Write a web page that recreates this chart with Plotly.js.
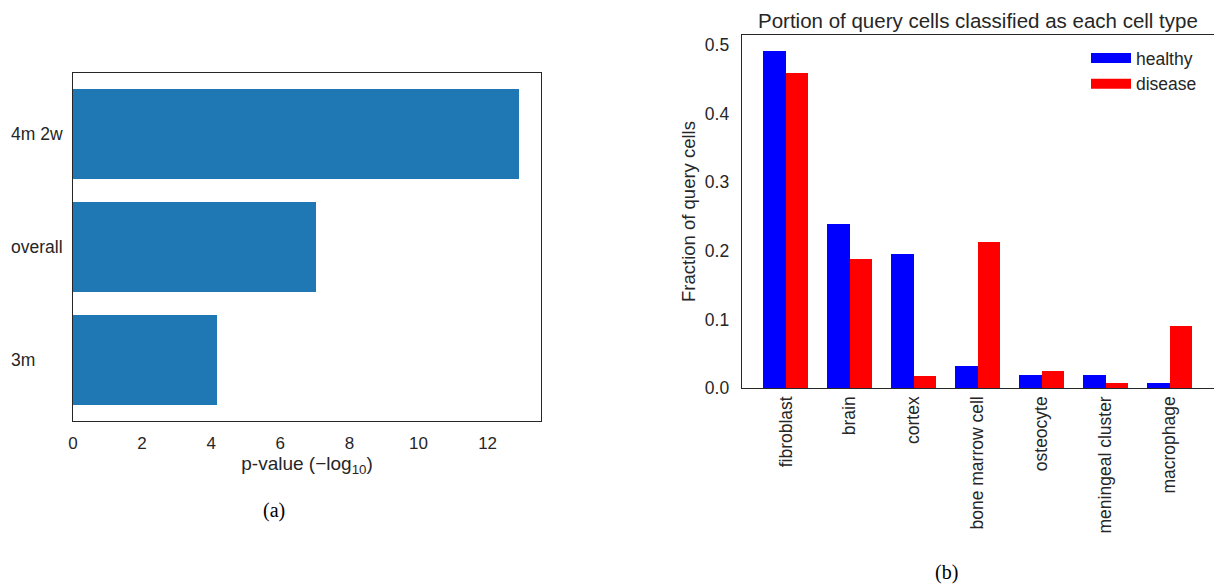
<!DOCTYPE html>
<html>
<head>
<meta charset="utf-8">
<script src="https://cdn.plot.ly/plotly-3.0.1.min.js"></script>
<style>html,body{margin:0;padding:0;background:#fff}</style>
</head>
<body>
<div id="chart" style="width:1214px;height:584px"></div>
<script>
// (a) significance per time point
const periods = ['3m', 'overall', '4m 2w'];
const pvalNegLog10 = [4.17, 7.04, 12.9];

// (b) fraction of query cells per predicted cell type
const cellTypes = ['fibroblast', 'brain', 'cortex', 'bone marrow cell', 'osteocyte', 'meningeal cluster', 'macrophage'];
const healthyFrac = [0.491, 0.239, 0.196, 0.032, 0.019, 0.019, 0.007];
const diseaseFrac = [0.459, 0.188, 0.017, 0.213, 0.025, 0.008, 0.090];

const W = 1214, H = 584;
const px = v => v / W;          // horizontal pixel -> paper
const py = v => 1 - v / H;      // vertical pixel -> paper

const ink = '#262626';
const sans = 'Liberation Sans, Arial, sans-serif';
const serif = 'Liberation Serif, Times New Roman, serif';
const tickFont = {family: sans, size: 17.5, color: ink};

const traces = [
  {
    type: 'bar', orientation: 'h',
    x: pvalNegLog10, y: periods,
    width: 0.8,
    marker: {color: '#1f77b4', line: {width: 0}},
    xaxis: 'x', yaxis: 'y', showlegend: false
  },
  {
    type: 'bar', name: 'healthy',
    x: cellTypes, y: healthyFrac,
    width: 0.35, offset: -0.35,
    marker: {color: '#0000ff', line: {width: 0}},
    xaxis: 'x2', yaxis: 'y2', showlegend: false
  },
  {
    type: 'bar', name: 'disease',
    x: cellTypes, y: diseaseFrac,
    width: 0.35, offset: 0,
    marker: {color: '#ff0000', line: {width: 0}},
    xaxis: 'x2', yaxis: 'y2', showlegend: false
  },
  // legend keys (wide colour patches)
  {
    type: 'scatter', mode: 'lines', name: 'healthy',
    x: [null], y: [null], line: {color: '#0000ff', width: 12},
    xaxis: 'x2', yaxis: 'y2', showlegend: true
  },
  {
    type: 'scatter', mode: 'lines', name: 'disease',
    x: [null], y: [null], line: {color: '#ff0000', width: 12},
    xaxis: 'x2', yaxis: 'y2', showlegend: true
  }
];

const frame = {showline: true, mirror: true, linecolor: ink, linewidth: 1.3, showgrid: false, zeroline: false};

const layout = {
  width: W, height: H,
  margin: {l: 0, r: 0, t: 0, b: 0},
  paper_bgcolor: '#ffffff', plot_bgcolor: '#ffffff',
  font: {family: sans, color: ink},
  xaxis: Object.assign({}, frame, {
    domain: [px(73), px(541)],
    anchor: 'y',
    range: [0, 13.545],
    tickvals: [0, 2, 4, 6, 8, 10, 12],
    ticks: 'outside', ticklen: 6, tickcolor: 'rgba(0,0,0,0)',
    tickfont: {family: sans, size: 17, color: ink},
    title: {text: 'p-value (−log<sub>10</sub>)', font: {family: sans, size: 19, color: ink}, standoff: 3}
  }),
  yaxis: Object.assign({}, frame, {
    domain: [py(421), py(73)],
    anchor: 'x',
    type: 'category',
    categoryorder: 'array', categoryarray: periods,
    range: [-0.54, 2.54],
    showticklabels: false, ticks: ''
  }),
  xaxis2: Object.assign({}, frame, {
    domain: [px(742), px(1213.5)],
    anchor: 'y2',
    type: 'category',
    categoryorder: 'array', categoryarray: cellTypes,
    range: [-0.685, 6.685],
    tickangle: -90,
    ticks: 'outside', ticklen: 0, tickcolor: 'rgba(0,0,0,0)',
    tickfont: tickFont
  }),
  yaxis2: Object.assign({}, frame, {
    domain: [py(388), py(35)],
    anchor: 'x2',
    range: [0, 0.5146],
    tickvals: [0, 0.1, 0.2, 0.3, 0.4, 0.5],
    tickformat: '.1f',
    ticks: 'outside', ticklen: 8, tickcolor: 'rgba(0,0,0,0)',
    tickfont: tickFont,
    title: {text: 'Fraction of query cells', font: {family: sans, size: 18.5, color: ink}, standoff: 4}
  }),
  legend: {
    x: px(1086), y: py(40), xanchor: 'left', yanchor: 'top',
    bgcolor: 'rgba(0,0,0,0)', borderwidth: 0,
    itemwidth: 40,
    font: {family: sans, size: 17.5, color: ink},
    tracegroupgap: 0
  },
  bargap: 0,
  annotations: [
    // period labels, left-aligned beside panel (a)
    ...periods.map(p => ({
      text: p, xref: 'paper', x: px(9), xanchor: 'left',
      yref: 'y', y: p, yanchor: 'middle',
      showarrow: false, font: tickFont
    })),
    {
      text: 'Portion of query cells classified as each cell type',
      xref: 'paper', x: px(978), xanchor: 'center',
      yref: 'paper', y: py(20), yanchor: 'middle',
      showarrow: false, font: {family: sans, size: 20.5, color: ink}
    },
    {
      text: '(a)', xref: 'paper', x: px(274), xanchor: 'center',
      yref: 'paper', y: py(510), yanchor: 'middle',
      showarrow: false, font: {family: serif, size: 20, color: '#000'}
    },
    {
      text: '(b)', xref: 'paper', x: px(946), xanchor: 'center',
      yref: 'paper', y: py(572), yanchor: 'middle',
      showarrow: false, font: {family: serif, size: 20, color: '#000'}
    }
  ]
};

Plotly.newPlot('chart', traces, layout, {displayModeBar: false, staticPlot: true});
</script>
</body>
</html>
